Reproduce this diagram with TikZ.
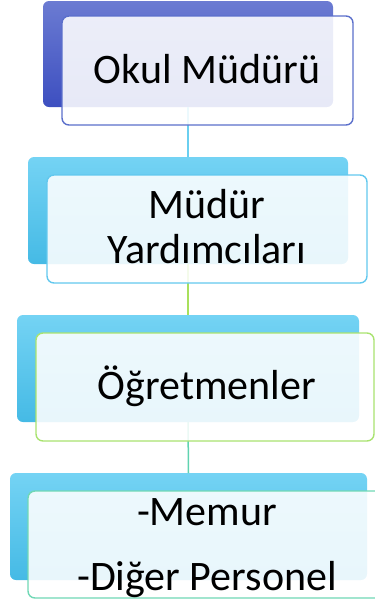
\documentclass[tikz,border=0pt]{standalone}
\usepackage{fontspec}
\setmainfont{Carlito}
\definecolor{bAtop}{HTML}{6B7BD2}
\definecolor{bAbot}{HTML}{3D4FC0}
\definecolor{bBtop}{HTML}{74D3F4}
\definecolor{bBmid}{HTML}{5ACDF3}
\definecolor{bBbot}{HTML}{45BAE5}
\definecolor{edgeA}{HTML}{5B6FCB}
\definecolor{edgeB}{HTML}{62C8EE}
\definecolor{edgeC}{HTML}{A9E36F}
\definecolor{edgeD}{HTML}{70D8B5}
\definecolor{linkA}{HTML}{6ACFF0}
\definecolor{linkB}{HTML}{A8E05C}
\definecolor{linkC}{HTML}{60D3B0}
\tikzset{
  backbox/.style={rounded corners=6pt, inner sep=0pt, outer sep=0pt, draw=none},
  backA/.style={backbox, top color=bAtop, bottom color=bAbot},
  backB/.style={backbox, top color=bBtop, middle color=bBmid, bottom color=bBbot},
  frontbox/.style={rounded corners=7pt, inner sep=0pt, outer sep=0pt, fill=white, fill opacity=0.88, line width=1.4pt},
  link/.style={line width=1.5pt},
  txt/.style={anchor=base, inner sep=0pt, font=\fontsize{42pt}{45pt}\selectfont, text=black}
}
\begin{document}
\begin{tikzpicture}[x=1pt,y=-1pt]
\useasboundingbox (0,0) rectangle (375,603);
\clip (0,0) rectangle (375,603);
% back boxes
\node[backA, minimum width=290pt, minimum height=106pt] (b1) at (188,54) {};
\node[backB, minimum width=320pt, minimum height=107pt] (b2) at (188,210.5) {};
\node[backB, minimum width=342pt, minimum height=107pt] (b3) at (188,368.5) {};
\node[backB, minimum width=357pt, minimum height=107pt] (b4) at (188.5,526.5) {};
% connectors
\draw[link, linkA] (b1.south) -- (b2.north);
\draw[link, linkB] (b2.south) -- (b3.north);
\draw[link, linkC] (b3.south) -- (b4.north);
% front boxes
\node[frontbox, draw=edgeA, minimum width=291pt, minimum height=109pt] (f1) at (207.5,70.5) {};
\node[frontbox, draw=edgeB, minimum width=320pt, minimum height=108pt] (f2) at (207,229) {};
\node[frontbox, draw=edgeC, minimum width=338pt, minimum height=108pt] (f3) at (205,387) {};
\node[frontbox, draw=edgeD, minimum width=357pt, minimum height=107pt] (f4) at (206.5,544.5) {};
% texts
\node[txt] (t1) at (207,83) {Okul Müdürü};
\node[txt] (t2a) at (207,218) {Müdür};
\node[txt] (t2b) at (207,263) {Yardımcıları};
\node[txt] (t3) at (207,399) {Öğretmenler};
\node[txt] (t4a) at (207,525) {-Memur};
\node[txt] (t4b) at (207,590) {-Diğer Personel};
\end{tikzpicture}
\end{document}
